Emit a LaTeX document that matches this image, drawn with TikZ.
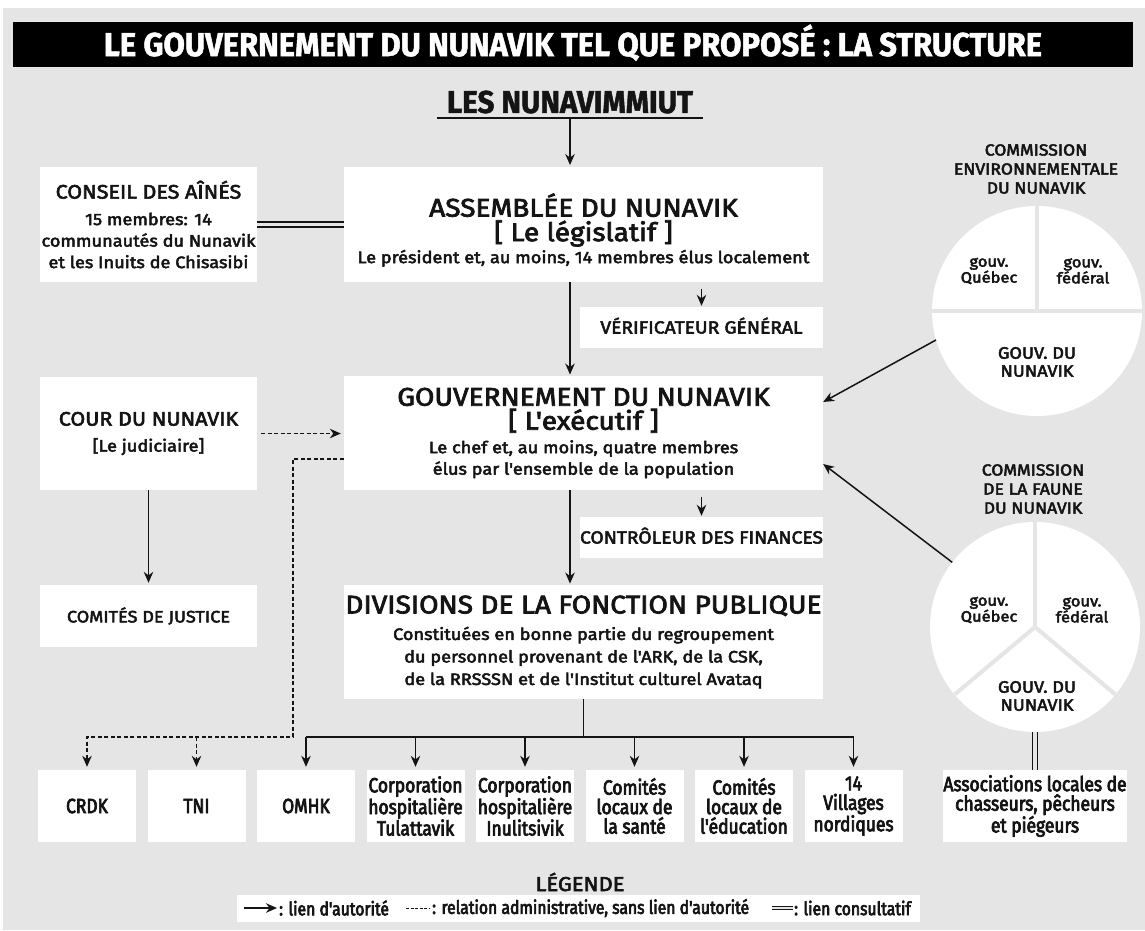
\documentclass[tikz,border=0pt]{standalone}
\usepackage{fontspec}
\setmainfont{Fira Sans}
\newfontfamily\mainf{Fira Sans}[FakeStretch=1.1,FakeBold=3]
\newfontfamily\condf{Fira Sans}[FakeStretch=0.85,FakeBold=3.5]
\newfontfamily\headf{Fira Sans}[FakeStretch=0.94,FakeBold=1.5]
\usetikzlibrary{arrows.meta}

\definecolor{bggray}{RGB}{229,229,229}
\definecolor{ink}{RGB}{20,20,20}

\tikzset{
  box/.style={fill=white, inner sep=0pt, align=center, text=ink},
  mainbox/.style={box, minimum width=479pt, minimum height=114.5pt},
  sidebox/.style={box, minimum width=217pt},
  smallbox/.style={box, minimum width=243pt, minimum height=41pt, text height=12pt, text depth=0pt, font=\mainf\fontsize{17.5}{20}\selectfont},
  unitbox/.style={box, minimum width=98pt, minimum height=72pt, font=\condf\fontsize{20.5}{19.5}\selectfont},
  link/.style={draw=ink, line width=1.5pt},
  auth/.style={link, -{Stealth[length=11pt,width=9.5pt]}},
  admin/.style={auth, line width=1.2pt, dash pattern=on 4pt off 2.5pt},
  consult/.style={draw=ink, line width=1.4pt, double=bggray, double distance=3.5pt},
  gap/.style={draw=bggray, line width=4pt},
  pie/.style={circle, fill=white, minimum size=210pt, inner sep=0pt, outer sep=0pt},
  pietitle/.style={align=center, text=ink, inner sep=0pt, font=\mainf\fontsize{16}{19}\selectfont},
  pielabel/.style={align=center, text=ink, inner sep=0pt, font=\mainf\fontsize{15}{16}\selectfont},
  piemain/.style={align=center, text=ink, inner sep=0pt, font=\mainf\fontsize{16.5}{18}\selectfont},
  legendtext/.style={anchor=west, inner sep=0pt, text=ink, font=\condf\fontsize{18.5}{18.5}\selectfont},
}

\begin{document}
\begin{tikzpicture}[x=1pt,y=-1pt]
    \useasboundingbox (0,0) rectangle (1145,930);
    \fill[white] (0,0) rectangle (1145,930);
    \fill[bggray] (3,8) rectangle (1145,930);

    \node[fill=black, text=white, inner sep=0pt, minimum width=1120pt, minimum height=45pt, text height=23pt, text depth=0pt, font=\headf\bfseries\fontsize{33}{33}\selectfont] (banner) at (573,44.5) {LE GOUVERNEMENT DU NUNAVIK TEL QUE PROPOSÉ : LA STRUCTURE};

    \node[inner sep=0pt, minimum width=266pt, minimum height=32pt, text=ink, font=\headf\bfseries\fontsize{31.5}{32}\selectfont] (nunav) at (570,102) {LES NUNAVIMMIUT};
    \draw[draw=ink, line width=2pt] (nunav.south west) -- (nunav.south east);

    \node[mainbox] (assemblee) at (583.5,224.5) {};
    \node[align=center, inner sep=0pt, text=ink, font=\mainf\fontsize{16.5}{22}\selectfont] (assembleetext) at (583.5,230) {{\fontsize{25.5}{26}\selectfont ASSEMBLÉE DU NUNAVIK}\\[2.5pt]{\fontsize{25.5}{26}\selectfont [ Le législatif ]}\\Le président et, au moins, 14 membres élus localement};
    \node[sidebox, minimum height=115pt, font=\mainf\fontsize{16.5}{21.5}\selectfont] (conseil) at (148.5,224.5) {{\fontsize{19.5}{20}\selectfont CONSEIL DES AÎNÉS}\\[5pt]15 membres: 14\\communautés du Nunavik\\et les Inuits de Chisasibi};
    \node[smallbox] (verif) at (701.5,327.5) {VÉRIFICATEUR GÉNÉRAL};

    \node[mainbox, font=\mainf\fontsize{16.5}{21.5}\selectfont] (gouv) at (583.5,433) {{\fontsize{25.5}{26}\selectfont GOUVERNEMENT DU NUNAVIK}\\[2.5pt]{\fontsize{25.5}{26}\selectfont [ L'exécutif ]}\\[2pt]Le chef et, au moins, quatre membres\\élus par l'ensemble de la population};
    \node[sidebox, minimum height=113pt, font=\mainf\fontsize{16.5}{22}\selectfont] (cour) at (148.5,433.5) {{\fontsize{19.5}{20}\selectfont COUR DU NUNAVIK}\\[4pt]{[Le judiciaire]}};
    \node[smallbox] (controleur) at (701.5,537.5) {CONTRÔLEUR DES FINANCES};

    \node[mainbox, font=\mainf\fontsize{16.5}{22.5}\selectfont] (divisions) at (583.5,642) {{\fontsize{25.5}{26}\selectfont DIVISIONS DE LA FONCTION PUBLIQUE}\\[4pt]Constituées en bonne partie du regroupement\\du personnel provenant de l'ARK, de la CSK,\\de la RRSSSN et de l'Institut culturel Avataq};
    \node[sidebox, minimum height=62pt, font=\mainf\fontsize{16.5}{18}\selectfont] (justice) at (148.5,616) {COMITÉS DE JUSTICE};

    \foreach \nm/\txt [count=\i from 0] in {crdk/CRDK, tni/TNI, omhk/OMHK, tulattavik/{Corporation\\hospitalière\\Tulattavik}, inulitsivik/{Corporation\\hospitalière\\Inulitsivik}, sante/{Comités\\locaux de\\la santé}, education/{Comités\\locaux de\\l'éducation}, villages/{14\\Villages\\nordiques}}
        \node[unitbox] (\nm) at (87+109.5*\i,806) {\txt};
    \node[unitbox, minimum width=180pt] (assoc) at (1035,806) {Associations locales de\\chasseurs, pêcheurs\\et piégeurs};

    \node[pietitle] (envtitle) at (1036,169) {COMMISSION\\ENVIRONNEMENTALE\\DU NUNAVIK};
    \node[pie] (envpie) at (1037,311) {};
    \draw[gap] (envpie.north) -- (envpie.center);
    \draw[gap] (envpie.west) -- (envpie.east);
    \node[pielabel] (envquebec) at (989,271) {gouv.\\Québec};
    \node[pielabel] (envfederal) at (1083,271) {gouv.\\fédéral};
    \node[piemain] (envnunavik) at (1037,362) {GOUV. DU\\NUNAVIK};

    \node[pietitle] (faunetitle) at (1033,489) {COMMISSION\\DE LA FAUNE\\DU NUNAVIK};
    \node[pie] (faunepie) at (1035,627) {};
    \draw[gap] (faunepie.center) -- (faunepie.north);
    \draw[gap] (faunepie.center) -- (faunepie.220);
    \draw[gap] (faunepie.center) -- (faunepie.320);
    \node[pielabel] (faunequebec) at (989,610) {gouv.\\Québec};
    \node[pielabel] (faunefederal) at (1082,610) {gouv.\\fédéral};
    \node[piemain] (faunenunavik) at (1037,696) {GOUV. DU\\NUNAVIK};

    \draw[auth, shorten >=2pt] (nunav.south) -- (assemblee.north -| nunav.south);
    \draw[consult] (conseil.east) -- (assemblee.west);
    \draw[auth, shorten >=1pt] (assemblee.south -| nunav.south) -- (gouv.north -| nunav.south);
    \draw[auth, shorten <=7pt, shorten >=1pt] (assemblee.south -| verif.north) -- (verif.north);
    \draw[auth, shorten <=7pt, shorten >=1pt] (gouv.south -| controleur.north) -- (controleur.north);
    \draw[auth, shorten >=1pt] (gouv.south -| nunav.south) -- (divisions.north -| nunav.south);
    \draw[admin, shorten <=4pt, shorten >=3pt] (cour.east) -- (cour.east -| gouv.west);
    \draw[auth, shorten >=2pt] (cour.south) -- (justice.north);

    \coordinate (dashbend) at (293,737);
    \draw[admin, shorten >=3pt] ([yshift=-26pt]gouv.west) -| (dashbend) -| (crdk.north);
    \draw[admin, shorten >=3pt] (dashbend -| tni.north) -- (tni.north);

    \coordinate (bus) at (583.5,737);
    \draw[link] (divisions.south) -- (bus);
    \draw[link] (bus -| omhk.north) -- (bus -| villages.north);
    \foreach \nm in {omhk,tulattavik,inulitsivik,sante,education,villages}
        \draw[auth, shorten >=3pt] (bus -| \nm.north) -- (\nm.north);

    \draw[auth] (envpie.196) -- ([yshift=31pt]gouv.east);
    \draw[auth] (faunepie.142) -- ([yshift=-31pt]gouv.east);
    \draw[consult] (faunepie.south) -- (assoc.north);

    \node[text=ink, inner sep=0pt, font=\mainf\fontsize{20}{20}\selectfont] (legendtitle) at (580,882) {LÉGENDE};
    \node[fill=white, inner sep=0pt, minimum width=683pt, minimum height=27pt] (legendbar) at (578.5,908.5) {};
    \coordinate (autha) at (244,908);
    \coordinate (authb) at (277,908);
    \draw[auth] (autha) -- (authb);
    \node[legendtext] (authtext) at (279,908) {: lien d'autorité};
    \coordinate (admina) at (406,908);
    \coordinate (adminb) at (430,908);
    \draw[link, line width=1pt, dash pattern=on 3pt off 1.5pt] (admina) -- (adminb);
    \node[legendtext] (admintext) at (432,908) {: relation administrative, sans lien d'autorité};
    \coordinate (consulta) at (772,908);
    \coordinate (consultb) at (793,908);
    \draw[consult, line width=1pt, double distance=2.5pt] (consulta) -- (consultb);
    \node[legendtext] (consulttext) at (794,908) {: lien consultatif};
\end{tikzpicture}
\end{document}
